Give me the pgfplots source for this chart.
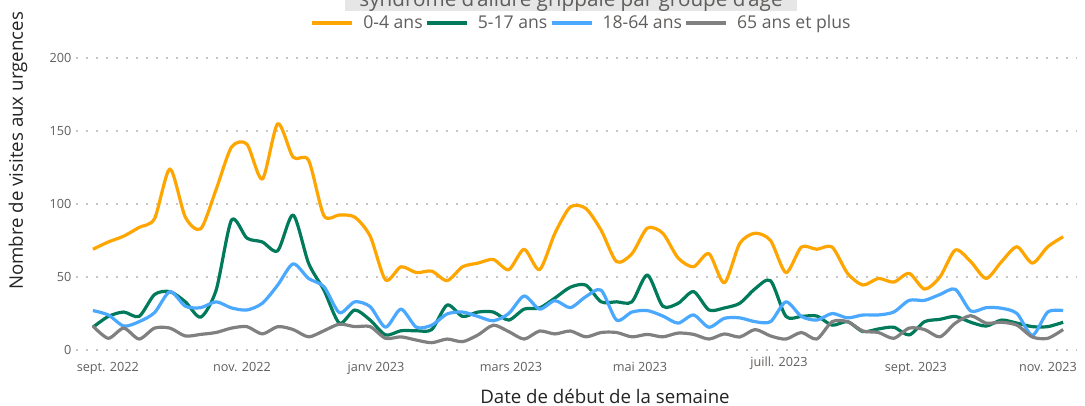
\documentclass[border=0pt]{standalone}
\usepackage{fontspec}
\setmainfont{Open Sans}
\usepackage{pgfplots}
\pgfplotsset{compat=1.18}
\usepackage{pgfplotstable}
\definecolor{cA}{HTML}{FFA500}
\definecolor{cB}{HTML}{007A5A}
\definecolor{cC}{HTML}{4AA8FF}
\definecolor{cD}{HTML}{808080}
\definecolor{tickc}{HTML}{605E5C}
\definecolor{gridc}{HTML}{C8C6C4}
\definecolor{labc}{HTML}{252423}
\definecolor{titlebg}{HTML}{E6E6E6}

\pgfplotstableread{
k a b c d
0 69 15.6 27 16.4
1 74 23 24 8
2 78 26 16.4 15
3 84 23 19.4 7.5
4 90 38 25.6 15
5 124 40 40 15
6 91 33 30 9.6
7 83 22.5 29 10.7
8 110 41 33 12
9 139 89 28.8 15
10 141 76.6 27.4 16
11 117 74 32 11
12 155 68 44.5 16
13 132 92.5 59 14
14 130 59.5 49 9
15 92 41 43.4 13.2
16 92.5 18.4 25.6 17.7
17 91 27.4 33 16
18 78 20.5 29.7 16
19 48 10.3 15.6 8
20 57 13.2 28 9
21 53 13.2 15.6 6.8
22 54 14 17 5
23 47.5 30.8 24.7 7.5
24 57 23 26 5.7
25 59.5 26 23 10.3
26 62 26 20 17
27 55 20.5 25 12.6
28 69 28 37 7.5
29 55 28.8 28 13
30 80 35.6 33.8 11
31 98 43 29 13
32 97 44.5 36.5 9
33 82 33 41 12
34 60.5 33 20.5 12
35 66 33 26 9
36 83.5 51.4 27 10.7
37 80 30 23.3 9
38 63 32 18.4 11.6
39 57 40 24 10.7
40 66 27.4 15.6 7.5
41 46 28.8 21.7 11
42 73 32 22 8.9
43 80 42 19.4 14
44 75 47.5 19.4 9.6
45 53 23 33 7.5
46 70.5 23 23 12
47 69 23.3 20.5 7.5
48 70.5 17 25 19.4
49 52.5 19.4 22 19.4
50 44.5 12.6 24 13
51 49 14.4 24 12
52 46.5 15.6 26 8
53 52.5 10.3 34 15
54 41.7 19.4 34 14
55 50 21 38 9
56 68.5 23 41.6 18.4
57 60.5 19 26.7 23.5
58 49 16.4 29 18.4
59 60.5 20.5 28.6 19
60 70.7 18.4 25 17
61 59.5 16 10 8.9
62 70.7 16 26 8
63 77.6 19 27 14
}\datatable

\begin{document}
\begin{tikzpicture}[x=0.75pt,y=0.75pt]
\useasboundingbox (0,0) rectangle (1085,406);
% title (cut off at top, as in the reference)
\fill[titlebg] (345,394.5) rectangle (797,420);
\node[anchor=base, font=\fontsize{15.5}{18}\selectfont, text=tickc, inner sep=0pt] at (571,399) {syndrome d'allure grippale par groupe d'âge};
\begin{axis}[
  at={(57pt,42pt)}, anchor=south west,
  scale only axis, width=750.75pt, height=219pt,
  xmin=-1.1, xmax=63.9, ymin=0, ymax=200,
  axis line style={draw=none},
  tick style={draw=none},
  ytick={0,50,100,150,200},
  ymajorgrids,
  grid style={gridc, line width=1.3pt, dash pattern=on 1.3pt off 6.2pt},
  xtick={0.97,9.68,18.38,27.14,35.52,44.55,53.44,62.01},
  xticklabels={sept. 2022,nov. 2022,janv 2023,mars 2023,mai 2023,{\raisebox{4pt}[\height][\depth]{juill. 2023}},sept. 2023,nov. 2023},
  ticklabel style={font=\fontsize{9.5}{11}\selectfont, text=tickc},
  /pgf/number format/assume math mode=true,
  xticklabel style={yshift=-5.5pt},
  clip=false,
  legend columns=4,
  legend style={at={(0.5055,1.12)}, anchor=center, draw=none, fill=none,
    font=\fontsize{13.2}{15}\selectfont, text=tickc,
    /tikz/every even column/.append style={column sep=0pt}},
  legend image code/.code={\draw[#1, line width=2.4pt] (0pt,0pt) -- (30pt,0pt); \path (35pt,0pt);},
  every axis plot/.append style={line width=2.4pt, smooth, tension=0.45, line join=round},
]
\addplot[cA] table[x=k,y=a] {\datatable};
\addlegendentry{0-4 ans}
\addplot[cB] table[x=k,y=b] {\datatable};
\addlegendentry{5-17 ans}
\addplot[cC] table[x=k,y=c] {\datatable};
\addlegendentry{18-64 ans}
\addplot[cD] table[x=k,y=d] {\datatable};
\addlegendentry{65 ans et plus}
\end{axis}
\node[rotate=90, anchor=center, font=\fontsize{14}{16}\selectfont, text=labc] at (18,255) {Nombre de visites aux urgences};
\node[anchor=base, font=\fontsize{14}{16}\selectfont, text=labc, inner sep=0pt] at (605,2) {Date de début de la semaine};
\end{tikzpicture}
\end{document}
